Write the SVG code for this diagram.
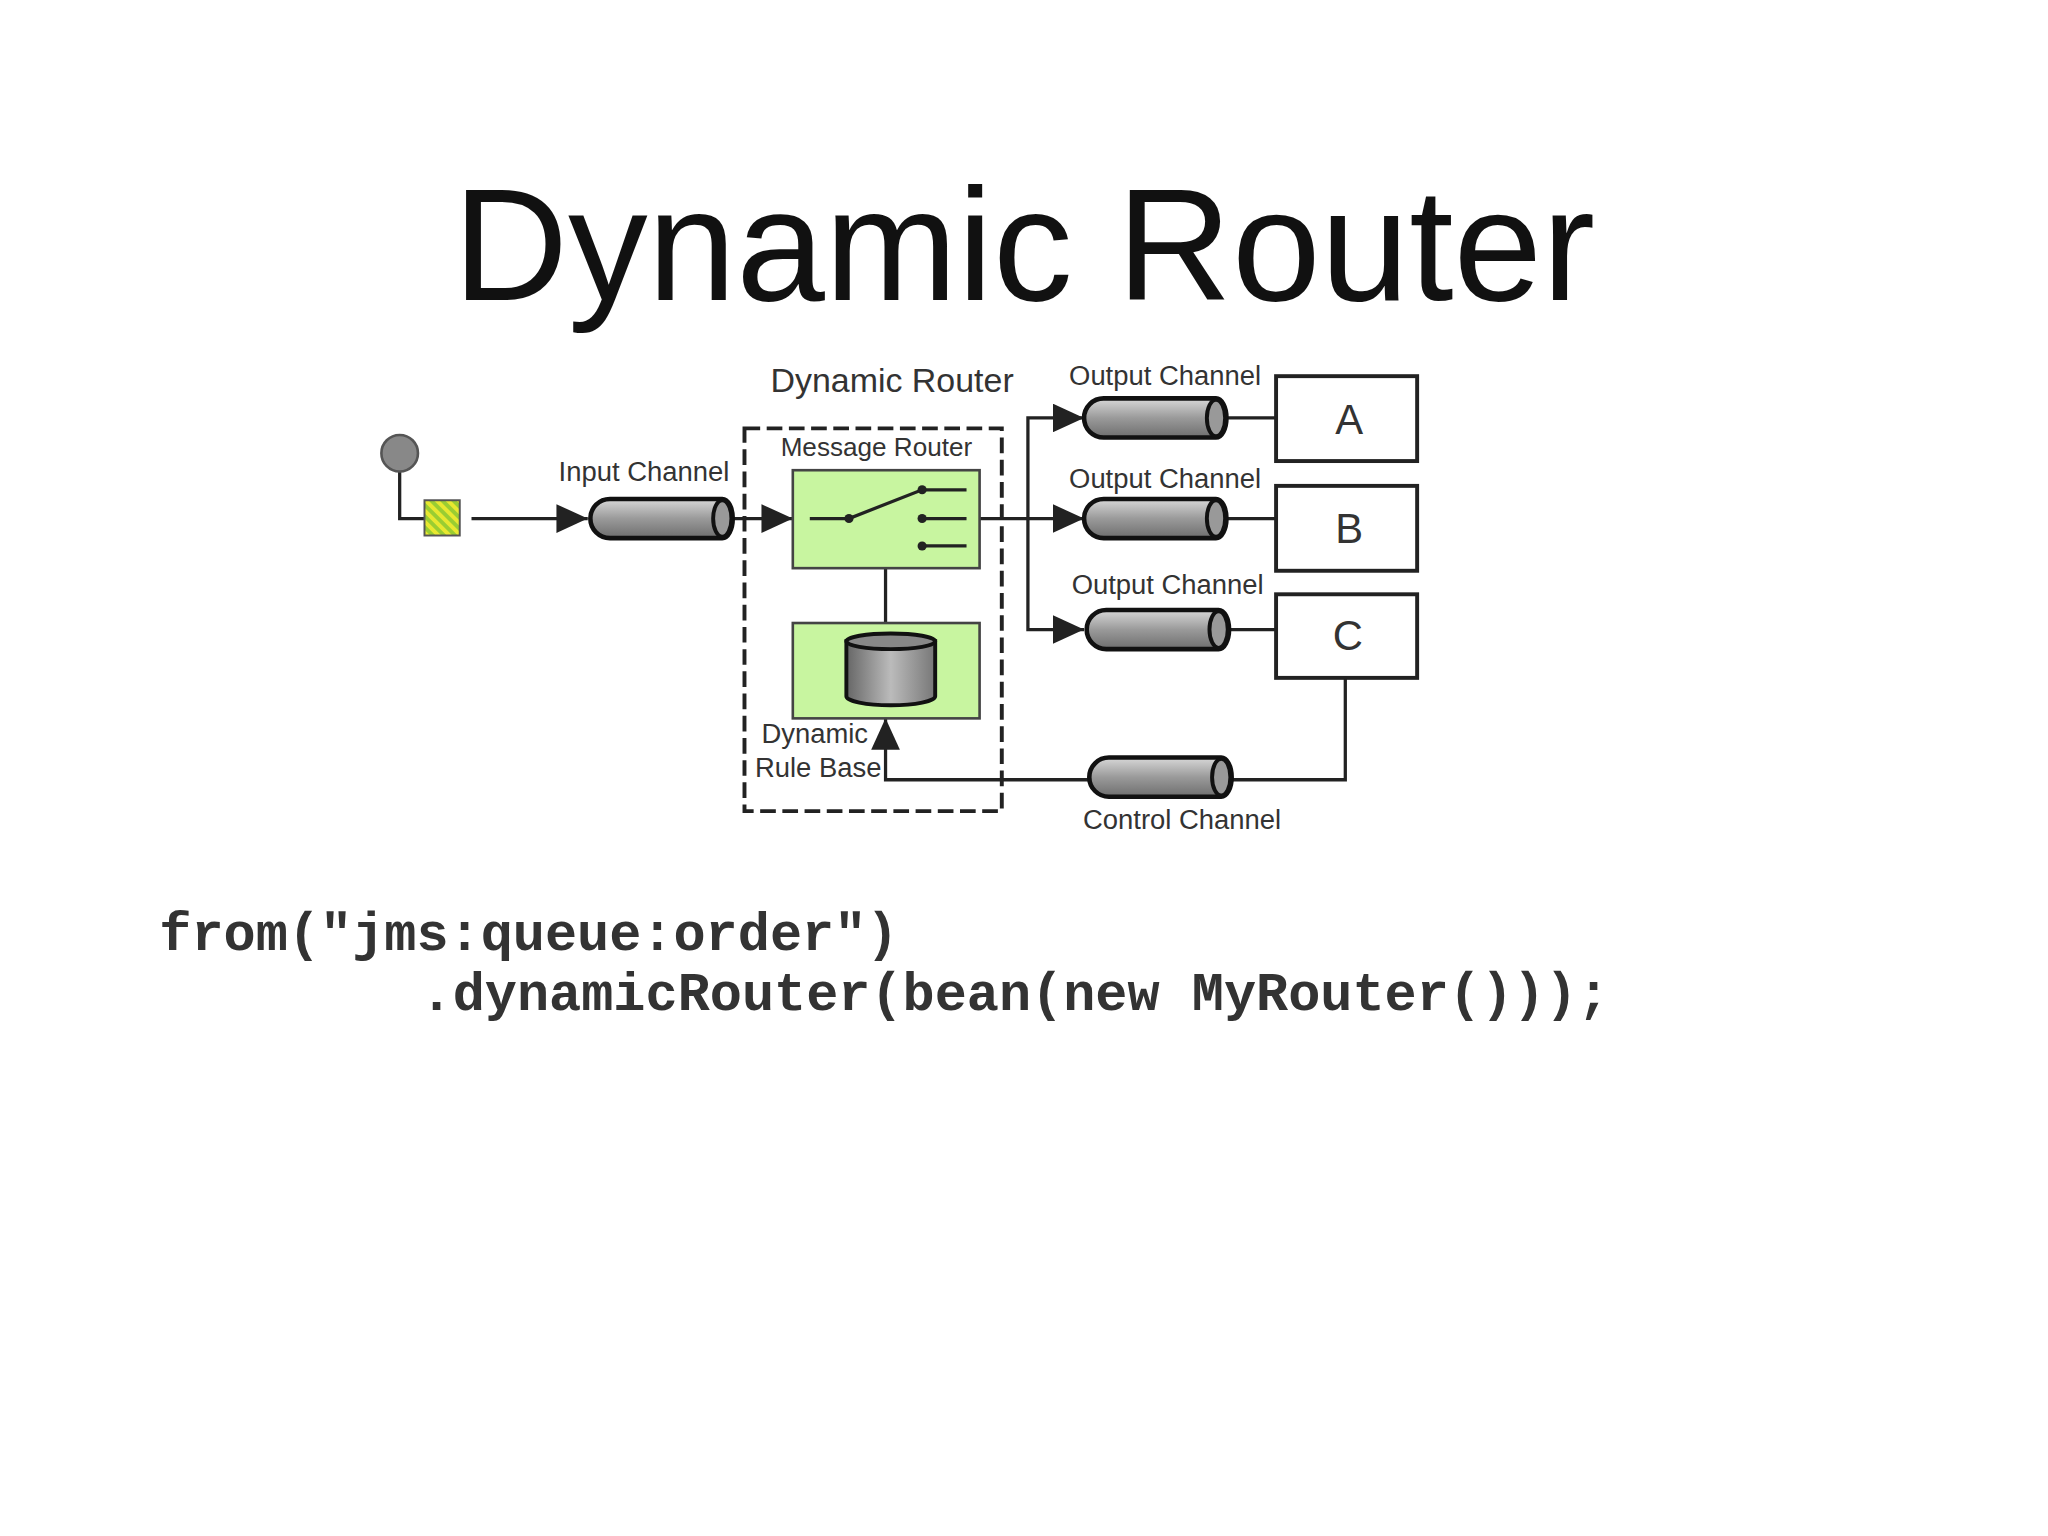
<svg xmlns="http://www.w3.org/2000/svg" width="2048" height="1536" viewBox="0 0 2048 1536">
<defs>
<linearGradient id="cg" x1="0" y1="0" x2="0" y2="1"><stop offset="0" stop-color="#d8d8d8"/><stop offset="0.5" stop-color="#9a9a9a"/><stop offset="1" stop-color="#6e6e6e"/></linearGradient>
<linearGradient id="dg" x1="0" y1="0" x2="1" y2="0"><stop offset="0" stop-color="#666"/><stop offset="0.5" stop-color="#bbb"/><stop offset="1" stop-color="#777"/></linearGradient>
<pattern id="hatch" width="6" height="6" patternUnits="userSpaceOnUse" patternTransform="rotate(-45)"><rect width="6" height="6" fill="#9acd32"/><rect width="3" height="6" fill="#e8e830"/></pattern>
<marker id="ahb" markerWidth="24" markerHeight="22" refX="24" refY="11" orient="auto" markerUnits="userSpaceOnUse"><path d="M0,0 L24,11 L0,22 Z" fill="#222"/></marker>
<g id="cyl"><path d="M15,0 H101 A8,15 0 0 1 101,30 H15 A15,15 0 0 1 15,0 Z" fill="url(#cg)" stroke="#111" stroke-width="3.5"/><ellipse cx="101" cy="15" rx="7" ry="14" fill="#999" stroke="#111" stroke-width="3"/></g>
</defs>
<style>
.t{font-family:"Liberation Sans",Arial,sans-serif;fill:#333}
.l{stroke:#222;stroke-width:2.5;fill:none}
.code{font-family:"Liberation Mono","Courier New",monospace;font-weight:bold;font-size:41px;fill:#333}
</style>
<rect width="2048" height="1536" fill="#fff"/>
<g transform="scale(1.30612)">
<text x="784" y="230" text-anchor="middle" font-family="Liberation Sans, Arial, sans-serif" font-size="122" fill="#111">Dynamic Router</text>
<g id="connectors">
<path class="l" d="M306,360 V397 H325"/>
<path class="l" d="M361,397 H450" marker-end="url(#ahb)"/>
<path class="l" d="M562,397 H607" marker-end="url(#ahb)"/>
<path class="l" d="M750,397 H830" marker-end="url(#ahb)"/>
<path class="l" d="M787,397 V320 H830" marker-end="url(#ahb)"/>
<path class="l" d="M787,397 V482 H830" marker-end="url(#ahb)"/>
<path class="l" d="M940,320 H977 M940,397 H977 M940,482 H977"/>
<path class="l" d="M678,435 V477"/>
<path class="l" d="M1030,519 V597 H678 V550" marker-end="url(#ahb)"/>
</g>
<g id="source"><circle cx="306" cy="347" r="14" fill="#888" stroke="#555" stroke-width="2"/></g>
<g id="msg"><rect x="325" y="383" width="27" height="27" fill="url(#hatch)" stroke="#555" stroke-width="1.5"/></g>
<g id="input"><use href="#cyl" x="452" y="382"/><text class="t" x="493" y="368" font-size="21" text-anchor="middle">Input Channel</text></g>
<g id="dynrouter"><rect x="570" y="328" width="197" height="293" fill="none" stroke="#222" stroke-width="3" stroke-dasharray="12,5"/>
<text class="t" x="683" y="300" font-size="26" text-anchor="middle">Dynamic Router</text></g>
<g id="router"><rect x="607" y="360" width="143" height="75" fill="#c8f5a0" stroke="#444" stroke-width="2"/>
<text class="t" x="671" y="349" font-size="20" text-anchor="middle">Message Router</text>
<path class="l" d="M620,397 H650 L706,375 H740 M706,397 H740 M706,418 H740"/>
<circle cx="650" cy="397" r="3.5" fill="#222"/><circle cx="706" cy="375" r="3.5" fill="#222"/><circle cx="706" cy="397" r="3.5" fill="#222"/><circle cx="706" cy="418" r="3.5" fill="#222"/></g>
<g id="rulebase"><rect x="607" y="477" width="143" height="73" fill="#c8f5a0" stroke="#444" stroke-width="2"/>
<path d="M648,491 V533 A34,7 0 0 0 716,533 V491 Z" fill="url(#dg)" stroke="#111" stroke-width="3"/><ellipse cx="682" cy="491" rx="34" ry="6" fill="#888" stroke="#111" stroke-width="3"/>
<text class="t" x="583" y="569" font-size="21">Dynamic</text><text class="t" x="578" y="595" font-size="21">Rule Base</text></g>
<g id="outA"><use href="#cyl" x="830" y="305"/><text class="t" x="892" y="295" font-size="21" text-anchor="middle">Output Channel</text></g>
<g id="outB"><use href="#cyl" x="830" y="382"/><text class="t" x="892" y="374" font-size="21" text-anchor="middle">Output Channel</text></g>
<g id="outC"><use href="#cyl" x="832" y="467"/><text class="t" x="894" y="455" font-size="21" text-anchor="middle">Output Channel</text></g>
<g id="A"><rect x="977" y="288" width="108" height="65" fill="#fff" stroke="#222" stroke-width="3"/><text class="t" x="1033" y="332" font-size="32" text-anchor="middle">A</text></g>
<g id="B"><rect x="977" y="372" width="108" height="65" fill="#fff" stroke="#222" stroke-width="3"/><text class="t" x="1033" y="416" font-size="32" text-anchor="middle">B</text></g>
<g id="C"><rect x="977" y="455" width="108" height="64" fill="#fff" stroke="#222" stroke-width="3"/><text class="t" x="1032" y="498" font-size="32" text-anchor="middle">C</text></g>
<g id="control"><use href="#cyl" x="834" y="580"/><text class="t" x="905" y="635" font-size="21" text-anchor="middle">Control Channel</text></g>
<text class="code" x="122" y="727">from("jms:queue:order")</text>
<text class="code" x="322" y="773">.dynamicRouter(bean(new MyRouter()));</text>
</g>
</svg>
